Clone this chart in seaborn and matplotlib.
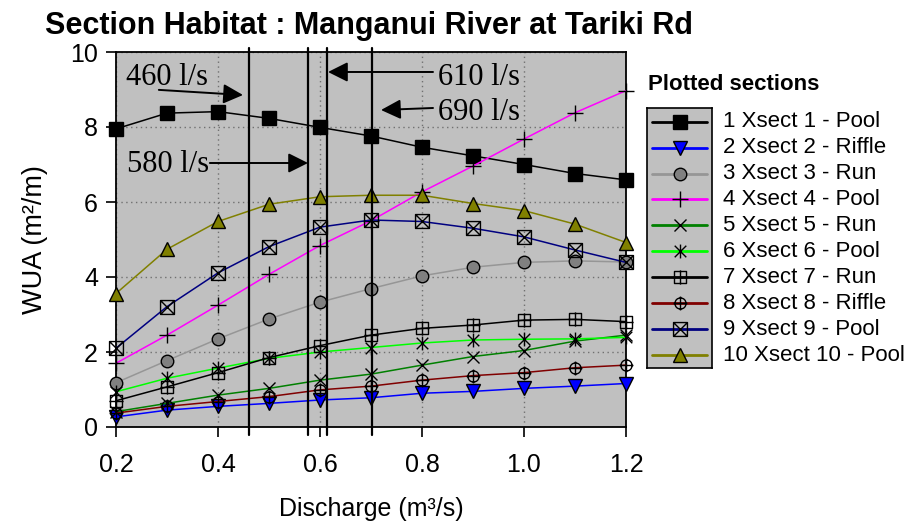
import matplotlib
matplotlib.use("Agg")
import matplotlib.pyplot as plt
from matplotlib.path import Path
import numpy as np
import pandas as pd
import seaborn as sns

# ---------------- data ----------------
discharge = [0.2, 0.3, 0.4, 0.5, 0.6, 0.7, 0.8, 0.9, 1.0, 1.1, 1.2]
section_labels = ["1 Xsect 1 - Pool", "2 Xsect 2 - Riffle", "3 Xsect 3 - Run",
                  "4 Xsect 4 - Pool", "5 Xsect 5 - Run", "6 Xsect 6 - Pool",
                  "7 Xsect 7 - Run", "8 Xsect 8 - Riffle", "9 Xsect 9 - Pool",
                  "10 Xsect 10 - Pool"]
wua_1 = [7.95, 8.37, 8.41, 8.23, 7.99, 7.76, 7.46, 7.23, 7.00, 6.76, 6.59]
wua_2 = [0.27, 0.45, 0.55, 0.63, 0.72, 0.78, 0.90, 0.95, 1.03, 1.09, 1.16]
wua_3 = [1.18, 1.77, 2.35, 2.88, 3.33, 3.69, 4.03, 4.26, 4.39, 4.43, 4.40]
wua_4 = [1.70, 2.45, 3.25, 4.07, 4.84, 5.50, 6.27, 6.96, 7.68, 8.38, 8.97]
wua_5 = [0.41, 0.63, 0.85, 1.03, 1.25, 1.41, 1.65, 1.88, 2.04, 2.29, 2.45]
wua_6 = [0.94, 1.30, 1.57, 1.83, 2.00, 2.12, 2.24, 2.32, 2.34, 2.35, 2.39]
wua_7 = [0.70, 1.07, 1.45, 1.85, 2.17, 2.45, 2.63, 2.72, 2.85, 2.87, 2.81]
wua_8 = [0.37, 0.55, 0.68, 0.81, 0.99, 1.09, 1.25, 1.37, 1.45, 1.58, 1.65]
wua_9 = [2.10, 3.21, 4.11, 4.81, 5.33, 5.52, 5.48, 5.30, 5.07, 4.72, 4.39]
wua_10 = [3.56, 4.74, 5.48, 5.94, 6.14, 6.18, 6.18, 5.96, 5.77, 5.41, 4.92]
series_values = [wua_1, wua_2, wua_3, wua_4, wua_5, wua_6, wua_7, wua_8, wua_9, wua_10]

flow_labels = ["460 l/s", "580 l/s", "610 l/s", "690 l/s"]
flow_positions = [0.461, 0.577, 0.613, 0.702]

x_ticks = [0.2, 0.4, 0.6, 0.8, 1.0, 1.2]
x_tick_labels = ["0.2", "0.4", "0.6", "0.8", "1.0", "1.2"]
y_ticks = [0, 2, 4, 6, 8, 10]
y_tick_labels = ["0", "2", "4", "6", "8", "10"]

# ---------------- styles ----------------
def compound(*parts):
    return Path.make_compound_path(*parts)

seg = lambda a, b: Path([a, b], [Path.MOVETO, Path.LINETO])
square = Path([(-1, -1), (1, -1), (1, 1), (-1, 1), (-1, -1)],
              [Path.MOVETO, Path.LINETO, Path.LINETO, Path.LINETO, Path.CLOSEPOLY])
sq_plus = compound(square, seg((-1.25, 0), (1.25, 0)), seg((0, -1.25), (0, 1.25)))
sq_x = compound(square, seg((-1, -1), (1, 1)), seg((-1, 1), (1, -1)))
circ = Path.unit_circle()
circ_plus = compound(circ, seg((-1.25, 0), (1.25, 0)), seg((0, -1.25), (0, 1.25)))
asterisk = compound(seg((-1, -1), (1, 1)), seg((-1, 1), (1, -1)), seg((0, -1.2), (0, 1.2)))

line_colors = ["#000000", "#0000FF", "#969696", "#FF00FF", "#008000",
               "#00FF00", "#000000", "#800000", "#000080", "#808000"]
markers = ["s", "v", "o", "+", "x", asterisk, sq_plus, circ_plus, sq_x, "^"]
marker_faces = ["#000000", "#0000FF", "#808080", "none", "none",
                "none", "none", "none", "none", "#808000"]
marker_sizes = [9.5, 9.5, 9, 11, 9, 10, 10, 10, 10, 10]

serif = "Liberation Serif"
sans = "Liberation Sans"

sns.set_style("ticks")
plt.rcParams["font.family"] = [sans, "DejaVu Sans"]
for k in ["text.color", "axes.labelcolor", "xtick.color", "ytick.color", "axes.edgecolor"]:
    plt.rcParams[k] = "black"

W, H = 907, 529
fig = plt.figure(figsize=(W / 100, H / 100), dpi=100)
ax = fig.add_axes([116 / W, 1 - 427 / H, (626 - 116) / W, (427 - 52) / H])
ax.set_facecolor("#C0C0C0")

for vals, col, mk, mf, ms in zip(series_values, line_colors, markers, marker_faces, marker_sizes):
    sns.lineplot(x=discharge, y=vals, ax=ax, color=col, lw=1.1, marker=mk,
                 markersize=ms, markerfacecolor=mf, markeredgecolor="black",
                 markeredgewidth=1.0, legend=False, clip_on=False, zorder=3)

for xp in flow_positions:
    ax.axvline(xp, ymin=-0.02, ymax=1.01, color="black", lw=1.6, clip_on=False, zorder=4)

ax.set_xlim(0.2, 1.2)
ax.set_ylim(0, 10)
ax.set_xticks(x_ticks)
ax.set_xticklabels(x_tick_labels)
ax.set_yticks(y_ticks)
ax.set_yticklabels(y_tick_labels)
ax.tick_params(axis="both", labelsize=18, length=7, width=1.2, color="black", labelcolor="black")
ax.tick_params(axis="x", pad=12)
ax.tick_params(axis="y", pad=6)
ax.grid(True, linestyle=(0, (1, 2.5)), color="#707070", lw=1.0, zorder=0)
ax.set_axisbelow(True)
for s in ax.spines.values():
    s.set_visible(True)
    s.set_color("black")
    s.set_linewidth(1.3)

ax.set_xlabel("Discharge (m³/s)", fontsize=18, labelpad=14, color="black")
ax.set_ylabel("WUA (m²/m)", fontsize=19.5, labelpad=16, color="black")

# flow annotations
text_pos = [(0.2196, 9.12), (0.2216, 6.80), (0.831, 9.12), (0.831, 8.19)]
arrow_tails = [(0.284, 8.99), (0.384, 7.04), (0.8216, 9.467), (0.8216, 8.507)]
arrow_tips = [(0.449, 8.853), (0.5765, 7.04), (0.6157, 9.467), (0.7196, 8.453)]
for lab, tp, tl, tip in zip(flow_labels, text_pos, arrow_tails, arrow_tips):
    ax.text(tp[0], tp[1], lab, family=serif, fontsize=22, ha="left", va="baseline",
            color="black", zorder=6)
    ax.annotate("", xy=tip, xytext=tl,
                arrowprops=dict(arrowstyle="-|>,head_length=0.6,head_width=0.3",
                                color="black", lw=1.4, mutation_scale=20,
                                shrinkA=0, shrinkB=0), zorder=6)

fig.text(45 / W, 1 - 34 / H, "Section Habitat : Manganui River at Tariki Rd",
         fontweight="bold", fontsize=22, ha="left", va="baseline", color="black")

# legend
row0, row_step = 121.7, 25.93
lax = fig.add_axes([647 / W, 1 - 368 / H, (712 - 647) / W, (368 - 108) / H])
lax.set_facecolor("#C0C0C0")
lax.set_xlim(0, 1)
lax.set_ylim((368 - row0) / row_step, (108 - row0) / row_step)
lax.set_xticks([])
lax.set_yticks([])
for s in lax.spines.values():
    s.set_color("black")
    s.set_linewidth(1.2)
for i, (lab, col, mk, mf, ms) in enumerate(zip(section_labels, line_colors, markers, marker_faces, marker_sizes)):
    lax.plot([0.07, 0.5, 0.93], [i, i, i], color=col, lw=2, marker=mk, markevery=[1],
             markersize=ms, markerfacecolor=mf, markeredgecolor="black", markeredgewidth=1.0)
    lax.text(723 / W, 1 - (row0 + i * row_step) / H, lab, transform=fig.transFigure,
             fontsize=16, ha="left", va="center", color="black")
fig.text(648 / W, 1 - 85 / H, "Plotted sections", fontsize=16, fontweight="bold",
         ha="left", va="center", color="black")

fig.savefig("out.png", dpi=100)
